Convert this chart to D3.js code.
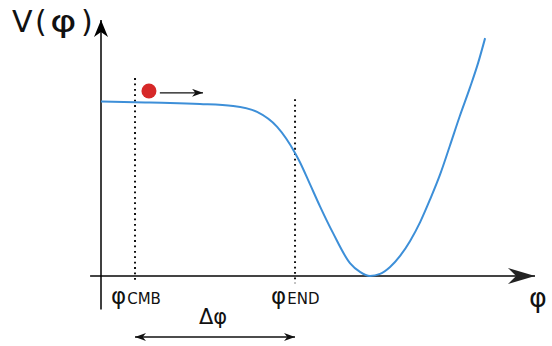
<!DOCTYPE html>
<html>
<head>
<meta charset="utf-8">
<script src="https://cdn.jsdelivr.net/npm/d3@7"></script>
<style>
  html, body { margin: 0; padding: 0; background: #fff; }
  svg { display: block; }
  text { font-family: "DejaVu Sans", Verdana, sans-serif; fill: #111; }
</style>
</head>
<body>
<svg id="chart" width="552" height="346"></svg>
<script>
// Potential V(φ): a long plateau, a fall past φ_END and a minimum at V = 0
const phiValues = [0, 7.8, 15.8, 22.7, 30.3, 35.8, 40.4, 44.5, 45.6, 47.9, 50.2, 53.2, 57.1, 59.4, 61.7, 64.0, 66.3, 68.6, 70.9, 73.2, 75.5, 77.8, 80.0, 82.3, 84.6, 86.5, 88.1];
const potentialValues = [67.6, 67.3, 67.1, 66.7, 65.9, 63.6, 57.8, 47.7, 44.2, 35.7, 27.1, 16.7, 5.0, 1.6, 0, 0.8, 3.5, 7.8, 13.6, 20.9, 29.8, 39.5, 50.4, 62.0, 72.9, 82.6, 92.2];

// Marked field values
const markerNames = ["CMB", "END"];
const markerPhi = [7.8, 44.5];
const markerTop = [76.7, 68.5];

// Rolling field (ball) and its direction of motion
const ballPhi = [11.0];
const ballV = [71.7];
const motionPhi = [13.5, 23.4];
const motionV = [71.0];

// Axis extents
const axisPhi = [-2.5, 100];
const axisV = [-13, 100];

const svg = d3.select("#chart");
const x = d3.scaleLinear().domain([0, 100]).range([101, 537]);
const y = d3.scaleLinear().domain([0, 100]).range([276, 18]);

// Arrowhead markers
const defs = svg.append("defs");
function head(id, color, len, half) {
  defs.append("marker")
    .attr("id", id)
    .attr("markerUnits", "userSpaceOnUse")
    .attr("viewBox", `${-len} ${-half} ${len + 1} ${2 * half}`)
    .attr("refX", 0).attr("refY", 0)
    .attr("markerWidth", len + 1).attr("markerHeight", 2 * half)
    .attr("orient", "auto-start-reverse")
    .append("path")
    .attr("d", `M0,0 L${-len},${-half} L${-len * 0.7},0 L${-len},${half} Z`)
    .attr("fill", color);
}
head("axisHeadX", "#222", 27, 8);
head("axisHeadY", "#000", 17, 7);
head("smallHead", "#111", 11, 4);

// Axes
svg.append("line")
  .attr("x1", x(axisPhi[0])).attr("x2", x(axisPhi[1]) - 2)
  .attr("y1", y(0)).attr("y2", y(0))
  .attr("stroke", "#444").attr("stroke-width", 2.2)
  .attr("marker-end", "url(#axisHeadX)");
svg.append("line")
  .attr("x1", x(0)).attr("x2", x(0))
  .attr("y1", y(axisV[0])).attr("y2", y(axisV[1]) + 2)
  .attr("stroke", "#000").attr("stroke-width", 1.5)
  .attr("marker-end", "url(#axisHeadY)");

// Dotted guides at φ_CMB and φ_END
markerPhi.forEach((p, i) => {
  svg.append("line")
    .attr("x1", x(p)).attr("x2", x(p))
    .attr("y1", y(markerTop[i])).attr("y2", y(-2.8))
    .attr("stroke", "#111").attr("stroke-width", 2)
    .attr("stroke-dasharray", "1.8,3.6");
});

// Potential curve
const pts = phiValues.map((p, i) => [p, potentialValues[i]]);
svg.append("path")
  .datum(pts)
  .attr("d", d3.line().x(d => x(d[0])).y(d => y(d[1])).curve(d3.curveMonotoneX))
  .attr("fill", "none")
  .attr("stroke", "#3d8fd8")
  .attr("stroke-width", 2);

// Ball and motion arrow
svg.append("circle")
  .attr("cx", x(ballPhi[0])).attr("cy", y(ballV[0]))
  .attr("r", 7.5).attr("fill", "#d62828");
svg.append("line")
  .attr("x1", x(motionPhi[0])).attr("x2", x(motionPhi[1]))
  .attr("y1", y(motionV[0])).attr("y2", y(motionV[0]))
  .attr("stroke", "#111").attr("stroke-width", 1.3)
  .attr("marker-end", "url(#smallHead)");

// Δφ span arrow
svg.append("line")
  .attr("x1", x(markerPhi[0])).attr("x2", x(markerPhi[1]))
  .attr("y1", 337).attr("y2", 337)
  .attr("stroke", "#111").attr("stroke-width", 1.5)
  .attr("marker-start", "url(#smallHead)")
  .attr("marker-end", "url(#smallHead)");

// Vertical axis title V(φ), with a broad φ
const title = svg.append("g").attr("font-size", 30);
title.append("text").attr("x", 12).attr("y", 32).text("V");
title.append("text").attr("x", 35).attr("y", 32).text("(");
title.append("text").attr("transform", "translate(50,32) scale(1.35,1)").text("φ");
title.append("text").attr("x", 81).attr("y", 32).text(")");

// Horizontal axis title
svg.append("text").attr("x", 529).attr("y", 307)
  .attr("font-size", 27).text("φ");

// Δφ label
svg.append("text").attr("x", (x(markerPhi[0]) + x(markerPhi[1])) / 2 - 2).attr("y", 324)
  .attr("text-anchor", "middle").attr("font-size", 21).text("Δφ");

// φ_CMB and φ_END labels
markerPhi.forEach((p, i) => {
  const t = svg.append("text").attr("x", x(p) - 24).attr("y", 304).attr("font-size", 23);
  t.append("tspan").text("φ");
  t.append("tspan").attr("font-size", 15).attr("dx", 1).text(markerNames[i]);
});
</script>
</body>
</html>
